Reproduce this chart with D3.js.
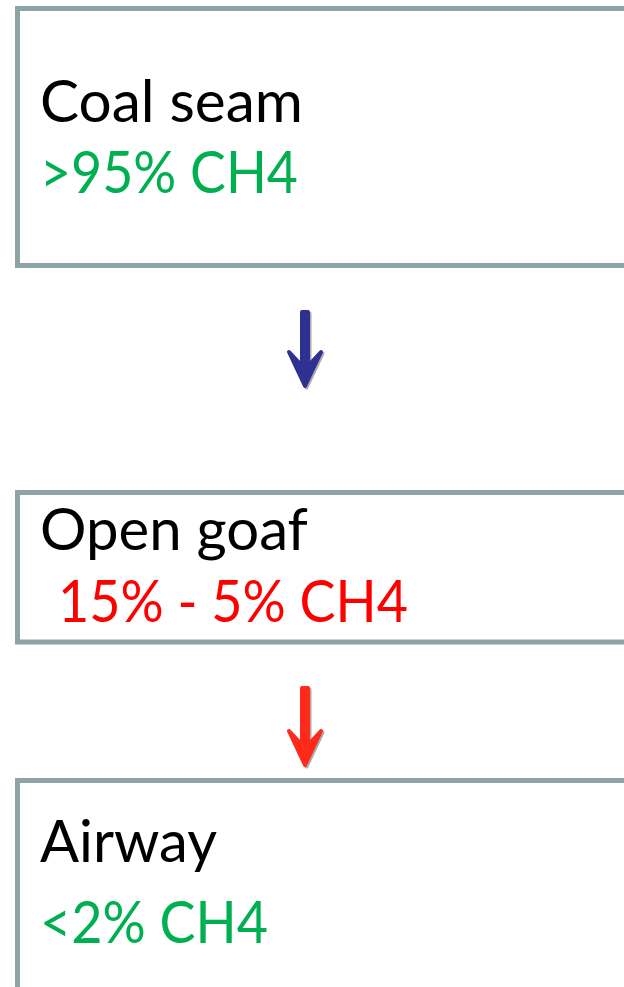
<!DOCTYPE html>
<html>
<head>
<meta charset="utf-8">
<script src="https://cdn.jsdelivr.net/npm/d3@7"></script>
<style>
  html, body { margin: 0; padding: 0; background: #fff; }
  svg { display: block; }
</style>
</head>
<body>
<svg id="chart" width="624" height="987"></svg>
<script>
// stages of methane dilution
var stages = ['Coal seam', 'Open goaf', 'Airway']
var levels = ['>95% CH4', '15% - 5% CH4', '<2% CH4']
var levelColors = ['#00b050', '#ff0000', '#00b050']
var arrowColors = ['#2e3192', '#ff2a1a']

var svg = d3.select('#chart'),
  width = 624,
  height = 987

var font = 'Lato, "Open Sans", sans-serif'
var border = '#8ca4a6'

// box layout (top / bottom of each frame)
var boxTop = [8.5, 492.5, 780.5],
  boxBottom = [265.5, 642, 1010]
var titleY = [122, 550, 862],
  levelY = [193, 622, 943]
var titleW = [263, 268, 177],
  levelW = [258, 350, 228]

var g = svg.append('g')

g.selectAll('rect.box')
  .data(stages)
  .enter()
  .append('rect')
  .attr('class', 'box')
  .attr('x', 17.5)
  .attr('y', (d, i) => boxTop[i])
  .attr('width', 700)
  .attr('height', (d, i) => boxBottom[i] - boxTop[i])
  .attr('fill', '#fff')
  .attr('stroke', border)
  .attr('stroke-width', 5)

// squeeze text horizontally so it matches the narrow original face
function fit(sel, xs, ys, widths) {
  sel.each(function(d, i) {
    var w = this.getComputedTextLength()
    d3.select(this).attr('transform',
      'translate(' + xs[i] + ',' + ys[i] + ') scale(' + (widths[i] / w) + ',1)')
  })
}

var titles = g.selectAll('text.title')
  .data(stages)
  .enter()
  .append('text')
  .attr('class', 'title')
  .attr('font-family', font)
  .attr('font-size', 59)
  .attr('fill', '#000')
  .text(d => d)
fit(titles, [40, 40, 40], titleY, titleW)

var lv = g.selectAll('text.level')
  .data(levels)
  .enter()
  .append('text')
  .attr('class', 'level')
  .attr('font-family', font)
  .attr('font-size', 59)
  .attr('fill', (d, i) => levelColors[i])
  .text(d => d)
fit(lv, [40, 58, 40], levelY, levelW)

// arrows between boxes
var arrowTop = [312, 688],
  arrowTip = [388, 767]

function arrowPath(y0, y1) {
  var cx = 305,
    hw = 16,
    hh = 36,
    sw = 3
  var p = d3.path()
  p.moveTo(cx - sw, y0)
  p.lineTo(cx + sw, y0)
  p.lineTo(cx + sw, y1 - hh + 14)
  p.lineTo(cx + hw, y1 - hh)
  p.lineTo(cx, y1 - 2)
  p.lineTo(cx - hw, y1 - hh)
  p.lineTo(cx - sw, y1 - hh + 14)
  p.closePath()
  return p.toString()
}

var arrows = g.selectAll('g.arrow')
  .data(arrowColors)
  .enter()
  .append('g')
  .attr('class', 'arrow')

arrows.append('path')
  .attr('d', (d, i) => arrowPath(arrowTop[i], arrowTip[i]))
  .attr('transform', 'translate(1.5,1.5)')
  .attr('fill', '#888')
  .attr('stroke', '#888')
  .attr('stroke-width', 4)
  .attr('stroke-linejoin', 'round')
  .attr('opacity', 0.7)

arrows.append('path')
  .attr('d', (d, i) => arrowPath(arrowTop[i], arrowTip[i]))
  .attr('fill', d => d)
  .attr('stroke', d => d)
  .attr('stroke-width', 4)
  .attr('stroke-linejoin', 'round')
</script>
</body>
</html>
